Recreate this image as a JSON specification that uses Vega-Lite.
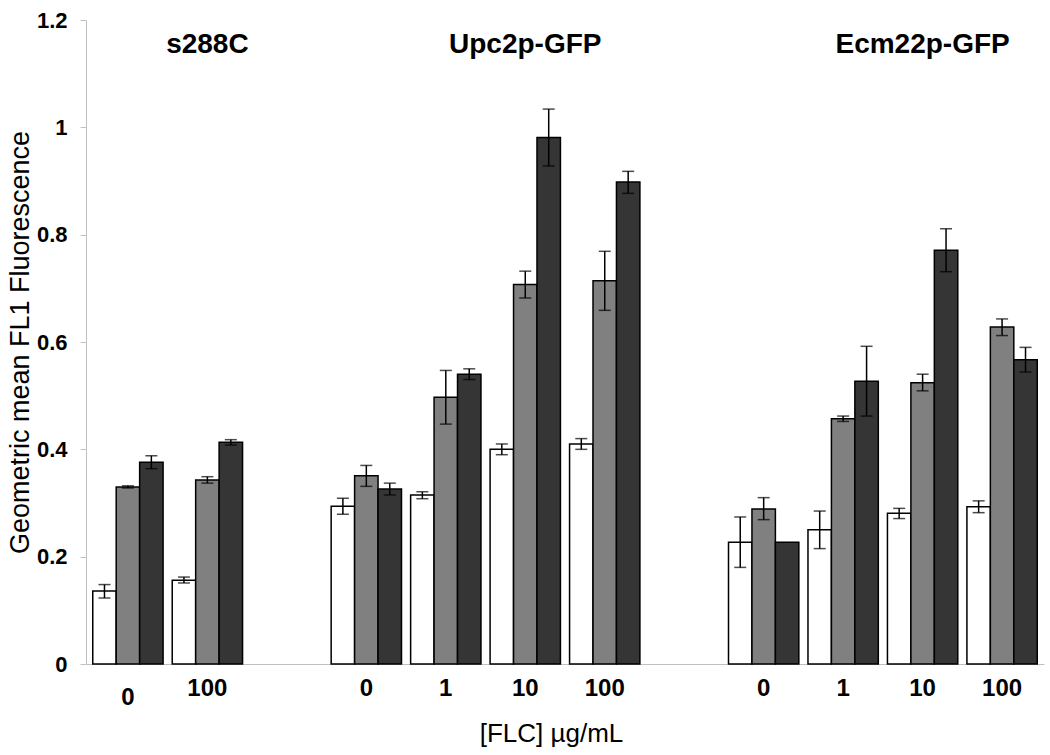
{
  "$schema": "https://vega.github.io/schema/vega-lite/v6.json",
  "width": 958,
  "height": 644,
  "autosize": "none",
  "padding": {"left": 86, "top": 20, "right": 6, "bottom": 91},
  "background": "white",
  "config": {
    "view": {"stroke": null},
    "font": "Liberation Sans",
    "axis": {"grid": false, "domainColor": "#c0c0c0", "domainWidth": 1, "labelColor": "black", "titleColor": "black", "labelFont": "Liberation Sans", "titleFont": "Liberation Sans"}
  },
  "datasets": {
    "bars": [
      {"cat": "s288C|0", "series": "A", "value": 0.136, "lo": 0.123, "hi": 0.148},
      {"cat": "s288C|0", "series": "B", "value": 0.330, "lo": 0.328, "hi": 0.332},
      {"cat": "s288C|0", "series": "C", "value": 0.376, "lo": 0.364, "hi": 0.388},
      {"cat": "s288C|100", "series": "A", "value": 0.156, "lo": 0.151, "hi": 0.162},
      {"cat": "s288C|100", "series": "B", "value": 0.343, "lo": 0.337, "hi": 0.349},
      {"cat": "s288C|100", "series": "C", "value": 0.413, "lo": 0.408, "hi": 0.418},
      {"cat": "Upc2p-GFP|0", "series": "A", "value": 0.294, "lo": 0.279, "hi": 0.309},
      {"cat": "Upc2p-GFP|0", "series": "B", "value": 0.351, "lo": 0.331, "hi": 0.370},
      {"cat": "Upc2p-GFP|0", "series": "C", "value": 0.326, "lo": 0.315, "hi": 0.337},
      {"cat": "Upc2p-GFP|1", "series": "A", "value": 0.315, "lo": 0.308, "hi": 0.321},
      {"cat": "Upc2p-GFP|1", "series": "B", "value": 0.497, "lo": 0.447, "hi": 0.547},
      {"cat": "Upc2p-GFP|1", "series": "C", "value": 0.540, "lo": 0.530, "hi": 0.550},
      {"cat": "Upc2p-GFP|10", "series": "A", "value": 0.400, "lo": 0.390, "hi": 0.410},
      {"cat": "Upc2p-GFP|10", "series": "B", "value": 0.707, "lo": 0.682, "hi": 0.732},
      {"cat": "Upc2p-GFP|10", "series": "C", "value": 0.981, "lo": 0.928, "hi": 1.034},
      {"cat": "Upc2p-GFP|100", "series": "A", "value": 0.410, "lo": 0.400, "hi": 0.420},
      {"cat": "Upc2p-GFP|100", "series": "B", "value": 0.714, "lo": 0.659, "hi": 0.769},
      {"cat": "Upc2p-GFP|100", "series": "C", "value": 0.898, "lo": 0.877, "hi": 0.918},
      {"cat": "Ecm22p-GFP|0", "series": "A", "value": 0.227, "lo": 0.180, "hi": 0.274},
      {"cat": "Ecm22p-GFP|0", "series": "B", "value": 0.289, "lo": 0.269, "hi": 0.310},
      {"cat": "Ecm22p-GFP|0", "series": "C", "value": 0.227, "lo": null, "hi": null},
      {"cat": "Ecm22p-GFP|1", "series": "A", "value": 0.250, "lo": 0.215, "hi": 0.285},
      {"cat": "Ecm22p-GFP|1", "series": "B", "value": 0.457, "lo": 0.452, "hi": 0.462},
      {"cat": "Ecm22p-GFP|1", "series": "C", "value": 0.527, "lo": 0.462, "hi": 0.592},
      {"cat": "Ecm22p-GFP|10", "series": "A", "value": 0.281, "lo": 0.271, "hi": 0.290},
      {"cat": "Ecm22p-GFP|10", "series": "B", "value": 0.524, "lo": 0.509, "hi": 0.540},
      {"cat": "Ecm22p-GFP|10", "series": "C", "value": 0.771, "lo": 0.731, "hi": 0.811},
      {"cat": "Ecm22p-GFP|100", "series": "A", "value": 0.293, "lo": 0.282, "hi": 0.304},
      {"cat": "Ecm22p-GFP|100", "series": "B", "value": 0.628, "lo": 0.612, "hi": 0.643},
      {"cat": "Ecm22p-GFP|100", "series": "C", "value": 0.567, "lo": 0.544, "hi": 0.590}
    ],
    "titles": [
      {"cat": "s288C|100", "label": "s288C"},
      {"cat": "Upc2p-GFP|10", "label": "Upc2p-GFP"},
      {"cat": "Ecm22p-GFP|10", "label": "Ecm22p-GFP"}
    ]
  },
  "layer": [
    {
      "data": {"name": "bars"},
      "mark": {"type": "bar", "stroke": "black", "strokeWidth": 1.5},
      "encoding": {
        "x": {
          "field": "cat", "type": "nominal",
          "scale": {"domain": ["s288C|0", "s288C|100", "gap1|", "Upc2p-GFP|0", "Upc2p-GFP|1", "Upc2p-GFP|10", "Upc2p-GFP|100", "gap2|", "Ecm22p-GFP|0", "Ecm22p-GFP|1", "Ecm22p-GFP|10", "Ecm22p-GFP|100"], "paddingInner": 0.115, "paddingOuter": 0.085},
          "axis": {
            "title": "[FLC] µg/mL",
            "titleFontSize": 26, "titleFontWeight": "normal",
            "titleX": 465, "titleY": 77, "titleBaseline": "alphabetic", "titleAnchor": "middle",
            "labelExpr": "split(datum.value, '|')[1]",
            "labelAngle": 0,
            "labelFontSize": 24, "labelFontWeight": "bold",
            "ticks": false,
            "labelPadding": {"condition": {"test": "datum.value == 's288C|0'", "value": 21}, "value": 12}
          }
        },
        "xOffset": {"field": "series", "type": "nominal", "scale": {"domain": ["A", "B", "C"], "paddingInner": 0, "paddingOuter": 0}},
        "y": {
          "field": "value", "type": "quantitative",
          "scale": {"domain": [0, 1.2], "nice": false},
          "axis": {
            "title": "Geometric mean FL1 Fluorescence",
            "titleFontSize": 27, "titleFontWeight": "normal",
            "titleX": -66, "titleY": 322, "titleAngle": -90, "titleBaseline": "middle", "titleAnchor": "middle",
            "values": [0, 0.2, 0.4, 0.6, 0.8, 1, 1.2],
            "format": "~g",
            "labelFontSize": 22, "labelFontWeight": "bold",
            "tickSize": 6, "tickColor": "#c0c0c0",
            "labelPadding": 13
          }
        },
        "fill": {"field": "series", "type": "nominal", "scale": {"domain": ["A", "B", "C"], "range": ["#ffffff", "#808080", "#353535"]}, "legend": null}
      }
    },
    {
      "data": {"name": "bars"},
      "transform": [{"filter": "isValid(datum.lo)"}],
      "mark": {"type": "rule", "color": "black", "strokeWidth": 1.5},
      "encoding": {
        "x": {"field": "cat", "type": "nominal"},
        "xOffset": {"field": "series", "type": "nominal"},
        "y": {"field": "lo", "type": "quantitative"},
        "y2": {"field": "hi"}
      }
    },
    {
      "data": {"name": "bars"},
      "transform": [{"filter": "isValid(datum.lo)"}],
      "mark": {"type": "tick", "color": "black", "size": 12, "thickness": 1.5},
      "encoding": {
        "x": {"field": "cat", "type": "nominal"},
        "xOffset": {"field": "series", "type": "nominal"},
        "y": {"field": "lo", "type": "quantitative"}
      }
    },
    {
      "data": {"name": "bars"},
      "transform": [{"filter": "isValid(datum.hi)"}],
      "mark": {"type": "tick", "color": "black", "size": 12, "thickness": 1.5},
      "encoding": {
        "x": {"field": "cat", "type": "nominal"},
        "xOffset": {"field": "series", "type": "nominal"},
        "y": {"field": "hi", "type": "quantitative"}
      }
    },
    {
      "data": {"name": "titles"},
      "mark": {"type": "text", "fontSize": 28, "fontWeight": "bold", "color": "black", "baseline": "middle", "align": "center"},
      "encoding": {
        "x": {"field": "cat", "type": "nominal"},
        "y": {"datum": 1.154},
        "text": {"field": "label"}
      }
    }
  ]
}
